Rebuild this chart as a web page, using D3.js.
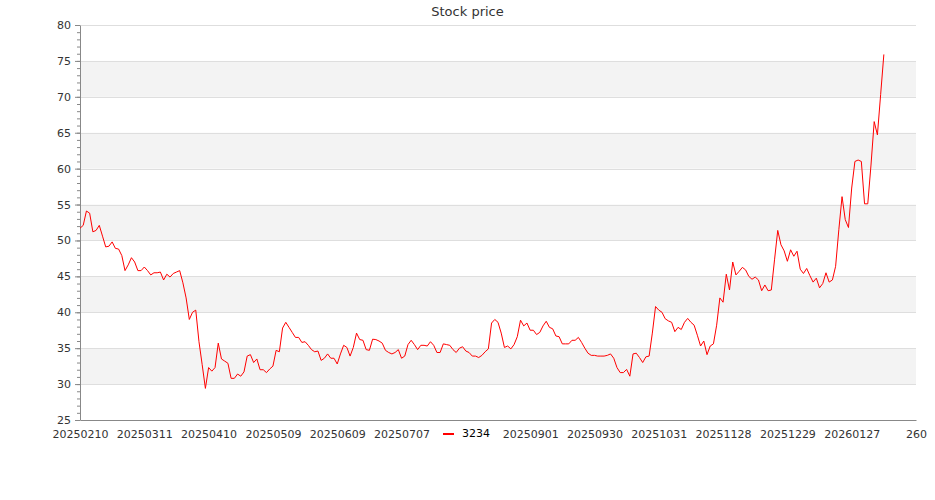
<!DOCTYPE html>
<html>
<head>
<meta charset="utf-8">
<script src="https://cdn.jsdelivr.net/npm/d3@7"></script>
<style>
  body { margin: 0; background: #fff; }
  svg, svg text { font-family: "DejaVu Sans", sans-serif; }
</style>
</head>
<body>
<div id="chart"></div>
<script>
// closing price of 3234, one value per trading day
const prices = [
  51.7, 52.1, 54.1, 53.8, 51.2, 51.4, 52.1, 50.6, 49.1, 49.2,
  49.8, 48.9, 48.8, 47.9, 45.8, 46.6, 47.6, 47.0, 45.8, 45.8,
  46.3, 45.8, 45.2, 45.5, 45.5, 45.6, 44.5, 45.3, 44.9, 45.4,
  45.6, 45.8, 44.1, 42.0, 39.0, 40.0, 40.3, 35.9, 32.7, 29.4,
  32.3, 31.8, 32.3, 35.7, 33.5, 33.2, 32.9, 30.8, 30.8, 31.4,
  31.1, 31.7, 33.9, 34.1, 33.0, 33.5, 32.0, 32.0, 31.6, 32.1,
  32.5, 34.7, 34.5, 37.8, 38.6, 37.9, 37.2, 36.5, 36.5, 35.8,
  35.9, 35.4, 34.8, 34.5, 34.6, 33.3, 33.6, 34.2, 33.6, 33.6,
  32.8, 34.2, 35.4, 35.1, 33.9, 35.1, 37.1, 36.2, 36.1, 34.8,
  34.7, 36.25, 36.2, 36.0, 35.7, 34.7, 34.4, 34.2, 34.4, 34.8,
  33.6, 33.9, 35.5, 36.1, 35.5, 34.8, 35.4, 35.4, 35.3, 35.9,
  35.4, 34.4, 34.4, 35.6, 35.5, 35.4, 34.8, 34.4, 35.0, 35.2,
  34.6, 34.4, 33.9, 33.9, 33.7, 34.0, 34.5, 34.9, 38.5, 39.0,
  38.6, 37.1, 35.1, 35.3, 34.9, 35.5, 36.6, 38.9, 38.1, 38.5,
  37.5, 37.5, 36.9, 37.2, 38.1, 38.75, 37.9, 37.7, 36.7, 36.6,
  35.6, 35.6, 35.6, 36.1, 36.1, 36.5, 35.8, 35.0, 34.3, 34.0,
  34.0, 33.9, 33.9, 33.9, 34.0, 34.2, 33.6, 32.3, 31.6, 31.6,
  32.05, 31.1, 34.2, 34.3, 33.7, 33.0, 33.8, 33.9, 37.1, 40.8,
  40.3, 40.0, 39.1, 38.8, 38.6, 37.3, 37.9, 37.6, 38.6, 39.15,
  38.6, 38.2, 36.8, 35.3, 36.0, 34.1, 35.3, 35.6, 38.2, 42.0,
  41.4, 45.3, 43.1, 47.0, 45.2, 45.7, 46.25, 45.9, 45.0, 44.6,
  44.9, 44.5, 43.0, 43.8, 43.0, 43.1, 47.3, 51.4, 49.4, 48.55,
  47.1, 48.7, 47.8, 48.5, 46.0, 45.4, 46.1, 45.1, 44.2, 44.75,
  43.4, 44.0, 45.5, 44.2, 44.5, 46.4, 51.5, 56.1, 52.9, 51.8,
  57.3, 61.0, 61.2, 61.0, 55.1, 55.1, 60.5, 66.55, 64.7, 70.3,
  75.9
];

// x ticks sit every 20 trading days; the last one has no date
const tickIndex = [0, 20, 40, 60, 80, 100, 120, 140, 160, 180, 200, 220, 240, 260];
const tickLabels = ['20250210', '20250311', '20250410', '20250509', '20250609', '20250707',
  '20250804', '20250901', '20250930', '20251031', '20251128', '20251229', '20260127', '260'];
const yTicks = [25, 30, 35, 40, 45, 50, 55, 60, 65, 70, 75, 80];
const seriesName = '3234';

const width = 935, height = 500;
const margin = { top: 25, right: 19, bottom: 80, left: 80 };

const x = d3.scaleLinear().domain([0, 260]).range([margin.left, width - margin.right]);
const y = d3.scaleLinear().domain([25, 80]).range([height - margin.bottom, margin.top]);

const svg = d3.select('#chart').append('svg')
  .attr('width', width)
  .attr('height', height);

// alternating bands
svg.append('g')
  .selectAll('rect')
  .data(yTicks.slice(0, -1).filter(v => v % 10 === 0))
  .join('rect')
  .attr('x', x(0))
  .attr('width', x(260) - x(0))
  .attr('y', d => y(d + 5))
  .attr('height', d => y(d) - y(d + 5))
  .attr('fill', '#f3f3f3');

// grid lines
svg.append('g')
  .selectAll('line')
  .data(yTicks.slice(1))
  .join('line')
  .attr('x1', x(0))
  .attr('x2', x(260))
  .attr('y1', d => Math.round(y(d)) + 0.5)
  .attr('y2', d => Math.round(y(d)) + 0.5)
  .attr('stroke', '#dedede');

// minor y ticks
svg.append('g')
  .attr('transform', `translate(${margin.left},0)`)
  .call(d3.axisLeft(y).ticks(55).tickSize(3).tickFormat(''))
  .call(g => g.select('.domain').remove())
  .call(g => g.selectAll('line').attr('stroke', '#888'));

// y axis
svg.append('g')
  .attr('transform', `translate(${margin.left},0)`)
  .call(d3.axisLeft(y).tickValues(yTicks).tickSize(5).tickSizeOuter(0).tickPadding(4))
  .attr('font-family', null)
  .call(g => g.select('.domain').attr('stroke', '#888'))
  .call(g => g.selectAll('line').attr('stroke', '#888'))
  .call(g => g.selectAll('text').attr('fill', '#333').style('font-size', '11px'));

// x axis; the label under the legend is hidden by it in the original
svg.append('g')
  .attr('transform', `translate(0,${height - margin.bottom})`)
  .call(d3.axisBottom(x).tickValues(tickIndex).tickSize(0).tickSizeOuter(0).tickPadding(10)
    .tickFormat((d, i) => tickLabels[i]))
  .attr('font-family', null)
  .call(g => g.select('.domain').attr('stroke', '#888'))
  .call(g => g.selectAll('text').attr('fill', '#333').style('font-size', '11px'))
  .call(g => g.selectAll('.tick').filter(d => d === 120).select('text').remove());

// price line
svg.append('path')
  .datum(prices)
  .attr('fill', 'none')
  .attr('stroke', 'red')
  .attr('stroke-width', 1)
  .attr('d', d3.line()
    .x((d, i) => x(i))
    .y(d => y(d)));

// title
svg.append('text')
  .attr('x', width / 2)
  .attr('y', 16)
  .attr('text-anchor', 'middle')
  .attr('fill', '#333')
  .style('font-size', '13px')
  .text('Stock price');

// legend, drawn over the axis labels
const legend = svg.append('g').attr('transform', 'translate(441,424)');
legend.append('rect')
  .attr('x', 2).attr('y', 0)
  .attr('width', 56).attr('height', 19)
  .attr('fill', '#fff');
legend.append('line')
  .attr('x1', 2).attr('x2', 13)
  .attr('y1', 10).attr('y2', 10)
  .attr('stroke', 'red')
  .attr('stroke-width', 2);
legend.append('text')
  .attr('x', 21)
  .attr('y', 13)
  .attr('fill', '#000')
  .style('font-size', '11px')
  .text(seriesName);
</script>
</body>
</html>
